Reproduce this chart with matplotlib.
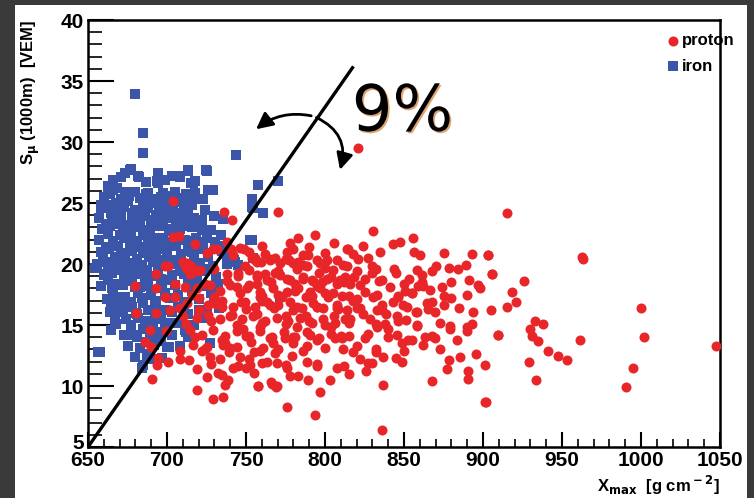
import numpy as np
import matplotlib.pyplot as plt
import matplotlib.transforms as mtransforms
from matplotlib.patches import FancyArrowPatch, Rectangle
import matplotlib.patheffects as pe

# iron (blue squares)
iron_x = [679.5, 684.8, 684.6, 743.5, 673.4, 677.0, 682.3, 694.3, 708.0, 713.0, 725.0,
          662.7, 668.1, 679.5, 693.5, 716.3, 726.1, 729.0, 757.8, 753.6, 754.5, 760.8,
          770.3, 753.6, 753.6, 754.5, 771.5,
          676.4, 681.6, 694.3, 694.3, 708.0, 713.3, 724.9, 715.4, 727.0, 662.7, 665.8,
          673.2, 679.5, 688.0, 697.5, 704.9, 717.5, 722.8, 667.9, 675.0, 684.8, 692.2,
          699.6, 709.0, 715.4, 664.8, 671.0, 677.6, 685.9, 693.2, 700.6, 708.0, 713.3,
          719.6, 661.6, 669.0, 675.3, 682.7, 690.0, 697.5, 705.9, 713.0, 728.0, 734.4,
          735.4, 752.3, 662.7, 670.0, 677.4, 684.5, 692.2, 697.5, 711.2, 718.6, 722.8,
          730.2, 661.6, 669.0, 676.4, 684.0, 690.0, 695.5, 706.0, 713.0, 721.7, 659.5,
          666.8, 673.2, 681.0, 688.5, 697.0, 703.0, 717.0, 742.7,
          654.2, 662.7, 671.0, 679.5, 687.5, 698.0, 708.5, 717.0, 662.7, 669.0, 677.6,
          686.0, 694.3, 702.8, 713.3, 665.8, 673.2, 681.6, 690.0, 698.5, 707.0, 664.8,
          671.0, 677.6, 684.8, 692.2, 698.5, 707.0, 666.9, 674.2, 681.6, 688.0, 694.3,
          700.6, 711.0, 720.0, 664.8, 684.8, 692.2, 698.5, 711.2, 686.9, 696.4, 657.4,
          684.8, 691.0, 656.5, 684.0, 687.2, 743.0, 752.5,
          658.0, 671.5, 686.5, 702.0, 668.5, 680.0, 695.5, 710.5, 659.5, 674.5, 689.0,
          703.5, 666.0, 679.0, 691.5, 705.5, 672.0, 688.5, 700.0, 715.0, 661.0, 676.0,
          683.0, 696.0, 719.0, 727.5, 732.0, 669.5, 680.5, 692.5, 678.5, 689.5, 701.5]
iron_y = [33.9, 30.7, 29.1, 28.9, 27.5, 27.8, 27.1, 27.5, 27.1, 27.6, 27.6,
          26.3, 26.2, 25.9, 26.8, 26.6, 26.1, 26.1, 26.5, 25.3, 24.6, 24.2,
          26.8, 24.7, 22.0, 20.5, 17.3,
          27.7, 27.2, 27.5, 26.6, 27.2, 27.7, 27.7, 26.6, 26.1, 26.4, 26.1,
          25.9, 25.9, 25.8, 25.8, 25.9, 25.8, 25.3, 25.0, 25.2, 25.0, 25.0,
          25.0, 25.1, 25.0, 24.2, 24.3, 24.2, 24.2, 24.0, 24.2, 24.2, 24.0,
          23.6, 23.3, 23.3, 23.2, 23.3, 23.2, 23.1, 23.2, 23.1, 22.8, 22.4,
          23.7, 22.0, 22.5, 22.4, 22.2, 22.4, 22.1, 22.1, 22.0, 22.1, 21.7,
          21.8, 21.4, 21.5, 21.3, 21.4, 21.4, 21.7, 21.5, 21.4, 21.2, 20.6,
          20.6, 20.3, 20.4, 20.6, 20.3, 20.3, 20.4, 20.3,
          19.7, 19.8, 19.5, 19.8, 19.5, 19.8, 19.4, 19.8, 18.7, 18.4, 18.6,
          18.9, 19.0, 18.7, 18.4, 17.6, 17.3, 17.6, 17.5, 17.6, 17.5, 16.9,
          16.6, 16.5, 16.8, 16.6, 16.2, 16.5, 15.4, 15.5, 15.6, 15.3, 15.5,
          15.2, 16.2, 16.2, 14.6, 14.7, 14.4, 14.8, 14.6, 13.6, 13.7, 12.8,
          11.7, 12.2, 12.8, 11.5, 12.4, 20.2, 22.0,
          24.8, 24.7, 24.6, 24.5, 23.8, 23.9, 23.7, 23.6, 22.9, 22.8, 22.7,
          22.9, 21.9, 21.8, 21.9, 22.2, 20.9, 20.9, 21.0, 21.1, 19.2, 19.3,
          18.1, 18.2, 18.6, 19.6, 18.4, 16.1, 16.0, 15.9, 14.2, 13.9, 13.2]

# iron, filling of the dense core
iron_core_x = [666, 671, 687, 699, 703, 718,
               660, 664, 671, 676, 683, 687, 690, 696, 701, 707, 712, 720,
               658, 662, 669, 673, 680, 688, 695, 698, 704, 711, 716, 724,
               657, 665, 671, 678, 686, 691, 700, 706, 712, 717, 722, 730,
               659, 664, 672, 679, 685, 694, 701, 708, 716, 722,
               657, 666, 673, 681, 688, 700, 706, 714, 725,
               658, 663, 671, 678, 685, 693, 699, 709, 716, 726, 735,
               656, 661, 667, 676, 684, 691, 694, 702, 706, 714, 721, 729, 738,
               660, 665, 673, 682, 689, 696, 703, 711, 719,
               658, 665, 672, 680, 688, 697, 705, 716, 724,
               662, 669, 677, 684, 693, 702, 711, 720, 730,
               664, 672, 681, 688, 696, 703, 713, 725,
               668, 677, 686, 691, 699, 707, 717,
               673, 681, 689, 695, 703, 713,
               675, 683, 692, 700, 708,
               680, 688, 697,
               719, 726, 733, 724, 731, 716, 728, 737, 722, 733, 745, 712, 727]
iron_core_y = [26.9, 27.1, 26.7, 26.9, 27.2, 26.8,
               25.5, 25.7, 25.3, 25.6, 25.4, 25.7, 25.3, 25.5, 25.6, 25.4, 25.7, 25.3,
               24.6, 24.8, 24.5, 24.7, 24.4, 24.6, 24.8, 24.5, 24.7, 24.5, 24.8, 24.4,
               23.8, 23.6, 24.0, 23.7, 23.9, 23.6, 23.8, 23.9, 23.5, 23.8, 23.6, 23.9,
               22.9, 23.1, 22.7, 23.0, 22.8, 23.1, 22.7, 22.9, 23.0, 22.8,
               22.0, 21.8, 22.1, 21.9, 22.2, 21.8, 22.0, 21.9, 22.1,
               21.0, 21.2, 20.8, 21.1, 20.9, 21.0, 21.2, 20.8, 21.0, 20.9, 21.1,
               20.0, 20.2, 19.8, 20.1, 19.9, 20.2, 19.7, 20.0, 20.1, 19.9, 20.1, 19.8, 20.0,
               19.1, 19.3, 18.9, 19.2, 19.0, 18.8, 19.1, 19.2, 18.9,
               18.2, 18.0, 18.3, 18.1, 18.2, 18.0, 18.3, 18.1, 18.2,
               17.1, 17.3, 16.9, 17.2, 17.0, 17.2, 16.9, 17.1, 17.0,
               16.1, 16.3, 15.9, 16.2, 16.0, 16.1, 15.9, 16.2,
               15.1, 15.0, 15.3, 14.9, 15.1, 15.2, 15.0,
               14.2, 14.0, 14.3, 14.1, 14.2, 14.0,
               13.3, 13.1, 13.4, 13.2, 13.3,
               12.4, 12.6, 12.3,
               21.8, 20.6, 21.5, 19.4, 18.9, 17.8, 17.6, 20.8, 15.6, 16.4, 19.9, 14.4, 13.5]

# proton (red circles)
proton_x = [821.0, 703.8, 736.0, 741.2, 703.8, 707.4, 729.0, 740.7, 748.8, 755.5, 710.0,
            700.5, 715.0, 698.5, 710.0, 712.0, 693.2, 719.0, 679.5, 693.2, 704.9, 698.5,
            705.0, 680.6, 693.2, 701.6, 689.0, 699.6, 686.0, 690.0, 694.3,
            770.5, 783.1, 793.7, 779.6, 830.2, 847.5, 855.5, 856.5, 814.7, 892.8, 903.0,
            878.7, 889.3, 905.5, 891.3, 853.4, 861.2, 866.5, 873.8, 859.0, 835.9, 841.2,
            843.3, 864.4, 858.0, 869.6, 893.9, 821.0, 827.4, 830.0, 811.6, 801.0, 797.0,
            789.4, 779.9, 775.6, 768.2, 765.0, 756.9, 753.7, 786.3, 768.2, 762.0, 775.7,
            786.3, 791.6, 798.0, 803.5, 809.5, 815.8, 825.3, 756.7, 780.8, 772.6, 791.6,
            802.0, 810.7, 818.0, 825.3, 830.6, 835.9, 759.0, 765.2, 782.0, 795.0, 807.5,
            822.2, 849.5, 775.0, 788.0, 805.5, 816.0, 828.6, 845.5, 756.7, 879.2, 889.8,
            909.8, 889.6, 879.0, 883.3, 885.5, 901.3, 890.7, 890.7, 902.0, 867.5, 862.3,
            872.8, 869.5, 863.0, 857.7, 848.5, 848.5, 852.7, 845.5, 837.0, 837.0, 835.9,
            827.4, 822.2, 820.0, 811.6, 806.4, 804.0, 815.0, 827.4, 832.7, 840.0, 796.8,
            793.7, 775.7, 757.8, 766.2, 769.4, 807.4, 803.3, 789.5, 788.4, 794.7, 777.8,
            775.7, 768.3, 778.9, 780.0, 788.4, 790.5, 782.0, 774.5, 767.4, 761.0, 758.9,
            769.5, 752.5,
            915.0, 903.4, 905.5, 918.6, 915.4, 962.5, 963.5, 909.2, 933.0, 938.2, 929.8,
            930.8, 935.0, 961.4, 1000.0, 1002.2, 1047.3, 929.0, 947.7, 953.0, 933.6,
            995.2, 990.3, 901.3,
            731.5, 746.2, 749.4, 755.7, 759.5, 765.2, 771.5, 777.0, 783.0, 788.4, 795.0,
            800.0, 807.5, 813.8, 813.8, 712.5, 714.6, 721.0, 737.8, 745.0, 756.7, 763.0,
            771.5, 777.8, 786.3, 792.6, 801.0, 807.4, 812.6, 711.4, 719.0, 727.2, 733.5,
            740.0, 750.5, 759.0, 767.4, 775.8, 783.0, 790.5, 797.0, 805.3, 712.5, 720.0,
            726.0, 734.6, 742.0, 749.4, 755.7, 763.0, 770.5, 777.8, 785.2, 792.6, 799.0,
            807.4, 813.8, 710.3, 718.8, 726.0, 733.5, 739.8, 747.2, 754.6, 762.0, 769.4,
            776.8, 784.2, 791.6, 799.0, 806.4, 812.7, 714.6, 722.0, 729.4, 736.8, 744.3,
            751.7, 759.0, 766.5, 773.9, 781.3, 788.7, 796.0, 803.5, 810.9,
            718.8, 729.3, 735.6, 736.7, 757.8, 766.0, 769.0, 690.3, 693.5, 700.8, 708.0,
            708.0, 714.0, 718.8, 725.0, 732.0, 738.5, 742.0, 727.0, 733.5, 746.0, 750.0,
            716.5, 725.0, 735.6, 744.0, 758.8, 763.0,
            820.5, 833.0, 846.0, 855.0, 868.0, 880.0, 824.0, 838.0, 851.0, 875.0, 818.5,
            829.5, 843.5, 861.5, 870.5, 832.0, 845.0, 858.5, 826.0, 838.5, 850.5, 878.5,
            898.0, 921.0, 926.0, 941.0, 877.0, 895.5]
proton_y = [29.5, 25.2, 24.3, 23.6, 22.2, 22.3, 21.2, 21.2, 21.2, 20.5, 20.2,
            19.8, 19.8, 19.8, 20.2, 19.7, 19.2, 19.4, 18.2, 18.0, 18.4, 17.3,
            17.3, 16.0, 16.0, 16.2, 14.6, 14.5, 13.6, 13.2, 12.3,
            24.3, 22.1, 22.4, 21.2, 22.7, 21.8, 22.1, 21.0, 21.2, 20.8, 20.7,
            19.7, 19.9, 19.2, 18.7, 18.8, 19.1, 17.9, 18.1, 18.2, 18.7, 18.1,
            16.9, 16.8, 16.1, 16.1, 16.1, 20.4, 20.5, 19.8, 19.9, 20.3, 20.1,
            20.7, 20.1, 20.4, 20.5, 20.4, 20.2, 20.5, 19.9, 19.3, 19.2, 18.8,
            18.9, 18.7, 18.5, 18.9, 18.7, 18.4, 18.8, 18.4, 17.8, 17.3, 17.4,
            17.3, 17.4, 17.0, 17.7, 17.3, 16.6, 17.3, 16.6, 16.5, 16.5, 16.4,
            16.4, 16.6, 15.7, 15.7, 15.7, 15.5, 15.5, 15.7, 15.9, 14.9, 14.8,
            14.2, 14.5, 14.7, 13.8, 12.4, 11.7, 11.2, 10.6, 8.7, 10.4, 13.4,
            13.0, 13.9, 14.0, 16.1, 13.5, 12.0, 13.8, 14.2, 12.4, 10.1, 6.4,
            11.9, 12.2, 13.3, 13.0, 13.9, 14.8, 14.1, 14.3, 14.8, 14.7, 9.5,
            7.6, 8.3, 10.0, 10.2, 10.0, 11.5, 10.5, 10.5, 12.0, 11.6, 10.8,
            11.5, 12.7, 12.5, 13.5, 13.3, 14.2, 14.8, 13.9, 13.5, 13.1, 14.8,
            11.9, 11.7,
            24.2, 20.7, 19.2, 17.7, 16.5, 20.6, 20.4, 14.2, 15.3, 15.1, 14.7,
            14.1, 13.7, 13.8, 16.4, 14.0, 13.3, 12.0, 12.5, 12.1, 10.5,
            11.5, 9.9, 8.7,
            21.2, 21.3, 19.8, 20.3, 20.2, 20.3, 20.1, 20.3, 20.2, 19.8, 20.3,
            19.7, 20.3, 19.8, 21.2, 20.1, 19.2, 19.5, 19.2, 19.0, 19.1, 18.7,
            19.1, 18.7, 18.8, 18.6, 18.8, 18.4, 18.9, 18.1, 18.0, 18.3, 17.8,
            18.3, 18.0, 17.7, 18.0, 17.7, 18.0, 17.7, 18.0, 17.6, 16.8, 17.2,
            16.6, 17.0, 16.5, 16.9, 16.5, 16.9, 16.6, 16.9, 16.4, 16.8, 16.4,
            16.6, 16.2, 15.7, 15.6, 15.8, 15.5, 15.7, 15.5, 15.7, 15.3, 15.6,
            15.3, 15.6, 15.2, 15.5, 15.2, 15.5, 14.6, 14.2, 14.6, 14.1, 14.5,
            14.1, 14.5, 14.0, 14.4, 14.0, 14.4, 13.9, 14.3, 13.9,
            9.7, 8.9, 9.1, 10.1, 10.0, 10.3, 9.9, 10.6, 11.7, 12.0, 12.2,
            12.9, 12.1, 11.4, 10.7, 11.1, 10.5, 11.5, 12.4, 12.2, 12.4, 11.5,
            13.4, 13.2, 13.4, 13.2, 12.9, 12.0,
            17.1, 16.2, 17.4, 17.6, 16.9, 17.2, 15.9, 15.1, 15.4, 16.6, 18.9,
            19.3, 19.6, 18.5, 19.8, 12.8, 12.3, 14.9, 11.2, 15.9, 17.8, 12.1,
            18.0, 16.9, 18.6, 12.9, 11.4, 12.6]

# proton, filling of the dense core
proton_core_x = [718, 738, 760, 778, 790, 806, 824, 843,
                 725, 742, 752, 762, 776, 786, 800, 818, 835, 860, 875,
                 718, 730, 745, 752, 770, 782, 796, 805, 820, 832, 845, 858, 868, 884,
                 724, 738, 752, 766, 781, 795, 812, 822, 834, 850, 862, 880, 897,
                 716, 730, 746, 760, 770, 788, 800, 815, 833, 846, 855, 875, 890,
                 708, 720, 735, 750, 768, 780, 795, 808, 820, 836, 852, 865, 885, 905,
                 712, 728, 744, 760, 775, 790, 800, 815, 832, 846, 858, 873, 893,
                 718, 735, 750, 765, 780, 795, 810, 825, 840, 855, 868,
                 722, 740, 755, 770, 786, 800, 818, 832, 850,
                 728, 745, 760, 775, 795, 812, 830,
                 735, 755, 783, 815,
                 741, 748, 753, 739, 747, 757, 744, 752, 760, 731, 737, 724]
proton_core_y = [21.6, 21.8, 21.5, 21.7, 21.4, 21.7, 21.5, 21.6,
                 20.9, 20.7, 21.0, 20.8, 21.0, 20.7, 20.9, 20.8, 21.0, 20.7, 20.9,
                 19.4, 19.6, 19.3, 19.5, 19.4, 19.6, 19.3, 19.5, 19.4, 19.6, 19.3, 19.5, 19.4, 19.6,
                 18.4, 18.6, 18.3, 18.5, 18.4, 18.2, 18.5, 18.3, 18.6, 18.4, 18.2, 18.5, 18.3,
                 17.5, 17.3, 17.6, 17.4, 17.5, 17.3, 17.6, 17.4, 17.5, 17.3, 17.6, 17.4, 17.5,
                 16.4, 16.2, 16.5, 16.3, 16.4, 16.2, 16.5, 16.3, 16.4, 16.2, 16.5, 16.3, 16.4, 16.2,
                 15.1, 15.3, 15.0, 15.2, 15.1, 15.3, 15.0, 15.2, 15.1, 15.3, 15.0, 15.2, 15.1,
                 14.0, 13.8, 14.1, 13.9, 14.0, 13.8, 14.1, 13.9, 14.0, 13.8, 14.1,
                 12.9, 13.1, 12.8, 13.0, 12.9, 13.1, 12.8, 13.0, 12.9,
                 11.8, 11.6, 11.9, 11.7, 11.8, 11.6, 11.9,
                 10.9, 11.1, 10.8, 11.0,
                 15.8, 14.7, 13.6, 12.8, 16.9, 18.9, 18.1, 12.2, 17.0, 16.7, 13.5, 13.0]

line_x = [650, 818]
line_y = [5, 36.2]

fig = plt.figure(figsize=(7.54, 4.98), dpi=100)
fig.patch.set_facecolor('#3a3a3a')
# white slide panel
fig.patches.append(Rectangle((15 / 754, 0), 732 / 754, 493 / 498, transform=fig.transFigure,
                             facecolor='white', edgecolor='none', zorder=0))

ax = fig.add_axes([88 / 754, 51 / 498, 632 / 754, 427 / 498])
ax.set_zorder(1)

red = '#e8262a'
blue = '#3b56a8'
ax.scatter(iron_x + iron_core_x, iron_y + iron_core_y, s=44, marker='s', color=blue,
           linewidths=0, zorder=2)
ax.scatter(proton_x + proton_core_x, proton_y + proton_core_y, s=52, marker='o', color=red,
           linewidths=0, zorder=3)
ax.plot(line_x, line_y, color='black', lw=2.4, zorder=4, solid_capstyle='butt')

ax.set_xlim(650, 1050)
ax.set_ylim(5, 40)
ax.set_xticks(np.arange(650, 1051, 50))
ax.set_xticks(np.arange(650, 1051, 10), minor=True)
ax.set_yticks(np.arange(5, 41, 5))
ax.set_yticks(np.arange(5, 41, 1), minor=True)
ax.tick_params(axis='x', which='major', direction='in', length=11, width=1.5, top=False)
ax.tick_params(axis='x', which='minor', direction='in', length=6, width=1.2, top=False)
ax.tick_params(axis='y', which='major', direction='in', length=19, width=1.5, right=False)
ax.tick_params(axis='y', which='minor', direction='in', length=10, width=1.2, right=False)
for sp in ax.spines.values():
    sp.set_linewidth(1.8)

tfont = dict(family=['Liberation Sans Narrow', 'Liberation Sans', 'DejaVu Sans'],
             weight='bold', size=15)
ax.set_xticklabels([str(v) for v in range(650, 1051, 50)], **tfont)
ax.set_yticklabels([str(v) for v in range(5, 41, 5)], **tfont)
ax.tick_params(axis='x', pad=3)
ax.tick_params(axis='y', pad=3)
# lift the lowest y label a little, like the original
ylabs = ax.get_yticklabels()
ylabs[0].set_transform(ylabs[0].get_transform() +
                       mtransforms.ScaledTranslation(0, 4 / 72, fig.dpi_scale_trans))

lfont = dict(family=['Liberation Sans Narrow', 'Liberation Sans', 'DejaVu Sans'],
             weight='bold', size=12)
plt.rcParams['mathtext.fontset'] = 'custom'
plt.rcParams['mathtext.rm'] = 'Liberation Sans Narrow:bold'
plt.rcParams['mathtext.it'] = 'Liberation Sans Narrow:bold'
plt.rcParams['mathtext.bf'] = 'Liberation Sans Narrow:bold'
fig.text(31 / 754, 1 - 20 / 498, r'S$_{\mu}$ (1000m)  [VEM]', rotation=90,
         ha='center', va='top', **lfont)
fig.text(720 / 754, 1 - 485 / 498, r'X$_{\rm max}$  [g cm$^{\rm -2}$]',
         ha='right', va='center', **lfont)

# legend
ax.scatter([1020], [38.3], s=52, marker='o', color=red, linewidths=0, zorder=5)
ax.scatter([1020], [36.2], s=44, marker='s', color=blue, linewidths=0, zorder=5)
ax.text(1026, 38.3, 'proton', va='center', ha='left', **lfont)
ax.text(1026, 36.2, 'iron', va='center', ha='left', **lfont)

# annotation
ax.text(849, 32.4, '9%', fontsize=46, ha='center', va='center', color='black',
        family='DejaVu Sans', zorder=6,
        path_effects=[pe.SimplePatchShadow(offset=(1.2, -1.2), shadow_rgbFace='#d08030', alpha=0.7),
                      pe.Normal()])
ax.add_patch(FancyArrowPatch((793, 32.1), (755, 30.9), connectionstyle='arc3,rad=0.25',
                             arrowstyle='-|>,head_length=10,head_width=5', color='black',
                             lw=2, zorder=6))
ax.add_patch(FancyArrowPatch((793, 32.1), (809, 27.5), connectionstyle='arc3,rad=-0.45',
                             arrowstyle='-|>,head_length=10,head_width=5', color='black',
                             lw=2, zorder=6))

fig.savefig('out.png', dpi=100, facecolor=fig.get_facecolor())
